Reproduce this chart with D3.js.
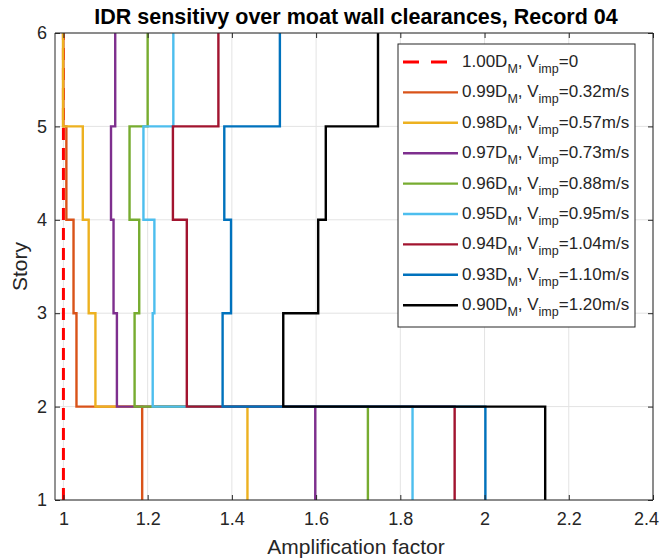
<!DOCTYPE html>
<html>
<head>
<meta charset="utf-8">
<script src="https://cdn.jsdelivr.net/npm/d3@7"></script>
<style>
  html, body { margin: 0; padding: 0; background: #ffffff; }
  text { font-family: "Liberation Sans", Arial, Helvetica, sans-serif; }
</style>
</head>
<body>
<svg id="chart" width="660" height="559"></svg>
<script>
// ---------- data ----------
const stories = [1, 2, 3, 4, 5, 6];
const xTicks = [1, 1.2, 1.4, 1.6, 1.8, 2, 2.2, 2.4];
const yTicks = [1, 2, 3, 4, 5, 6];
const clearances = ["1.00", "0.99", "0.98", "0.97", "0.96", "0.95", "0.94", "0.93", "0.90"];
const impactVel = ["0", "0.32m/s", "0.57m/s", "0.73m/s", "0.88m/s", "0.95m/s", "1.04m/s", "1.10m/s", "1.20m/s"];
const colors = ["#FF0000", "#D95319", "#EDB120", "#7E2F8E", "#77AC30", "#4DBEEE", "#A2142F", "#0072BD", "#000000"];
// amplification factor per story interval: [1-2, 2-3, 3-4, 4-5, 5-6]
const amp100 = [1.000, 1.000, 1.000, 1.000, 1.000];
const amp099 = [1.187, 1.031, 1.024, 1.007, 1.000];
const amp098 = [1.437, 1.076, 1.060, 1.046, 0.999];
const amp097 = [1.598, 1.127, 1.119, 1.113, 1.123];
const amp096 = [1.723, 1.169, 1.180, 1.157, 1.200];
const amp095 = [1.829, 1.212, 1.216, 1.190, 1.261];
const amp094 = [1.929, 1.293, 1.293, 1.260, 1.368];
const amp093 = [2.002, 1.378, 1.398, 1.382, 1.514];
const amp090 = [2.144, 1.522, 1.605, 1.623, 1.747];
const seriesValues = [amp100, amp099, amp098, amp097, amp096, amp095, amp094, amp093, amp090];

// ---------- layout ----------
const svg = d3.select("#chart");
const L = 55, R = 653, T = 33, B = 500;
const x = d3.scaleLinear().domain([0.98, 2.4]).range([L, R]);
const y = d3.scaleLinear().domain([1, 6]).range([B, T]);
const axisColor = "#262626";

// grid
svg.append("g").selectAll("line").data(xTicks).join("line")
  .attr("x1", d => x(d)).attr("x2", d => x(d)).attr("y1", T).attr("y2", B)
  .attr("stroke", "#e3e3e3").attr("stroke-width", 1);
svg.append("g").selectAll("line").data(yTicks).join("line")
  .attr("x1", L).attr("x2", R).attr("y1", d => y(d)).attr("y2", d => y(d))
  .attr("stroke", "#e3e3e3").attr("stroke-width", 1);

// series
const line = d3.line().x(d => x(d[0])).y(d => y(d[1]));
seriesValues.forEach((vals, i) => {
  const pts = [];
  vals.forEach((v, k) => { pts.push([v, stories[k]]); pts.push([v, stories[k + 1]]); });
  const p = svg.append("path").attr("d", line(pts))
    .attr("fill", "none").attr("stroke", colors[i])
    .attr("stroke-width", i === 0 ? 3 : 2.4)
    .attr("stroke-linejoin", "miter");
  if (i === 0) p.attr("stroke-dasharray", "12,8");
});

// axes
const xAxisB = d3.axisBottom(x).tickValues(xTicks).tickSize(-5).tickPadding(12).tickFormat(d3.format("~g"));
const xAxisT = d3.axisTop(x).tickValues(xTicks).tickSize(-5).tickFormat("");
const yAxisL = d3.axisLeft(y).tickValues(yTicks).tickSize(-5).tickPadding(8).tickFormat(d3.format("d"));
const yAxisR = d3.axisRight(y).tickValues(yTicks).tickSize(-5).tickFormat("");
function style(g) {
  g.select(".domain").attr("stroke", axisColor).attr("stroke-width", 1);
  g.selectAll(".tick line").attr("stroke", axisColor);
  g.selectAll(".tick text").attr("fill", axisColor).style("font-size", "18px")
    .style("font-family", '"Liberation Sans", Arial, sans-serif');
}
const gxB = svg.append("g").attr("transform", `translate(0,${B})`).call(xAxisB).call(style);
gxB.select(".domain").attr("d", `M${L},0H${R}`);
// keep the last tick label inside the picture (the reference is cropped at the right edge)
gxB.selectAll(".tick text").filter(d => d === 2.4).attr("dx", -7);
svg.append("g").attr("transform", `translate(0,${T})`).call(xAxisT).call(style).select(".domain").attr("d", `M${L},0H${R}`);
svg.append("g").attr("transform", `translate(${L},0)`).call(yAxisL).call(style).select(".domain").attr("d", `M0,${B}V${T}`);
svg.append("g").attr("transform", `translate(${R},0)`).call(yAxisR).call(style).select(".domain").attr("d", `M0,${B}V${T}`);

// title & labels
svg.append("text").attr("x", 356).attr("y", 24).attr("text-anchor", "middle")
  .style("font-size", "21.5px").style("font-weight", "bold").attr("fill", "#000")
  .text("IDR sensitivy over moat wall clearances, Record 04");
svg.append("text").attr("x", 356).attr("y", 554).attr("text-anchor", "middle")
  .style("font-size", "21px").attr("fill", axisColor).text("Amplification factor");
svg.append("text").attr("transform", `translate(27,${(T + B) / 2}) rotate(-90)`).attr("text-anchor", "middle")
  .style("font-size", "21px").attr("fill", axisColor).text("Story");

// legend
const lgX = 398, lgY = 44, lgW = 237, lgH = 283, rowH = 30.4, row0 = 62;
const lg = svg.append("g");
lg.append("rect").attr("x", lgX).attr("y", lgY).attr("width", lgW).attr("height", lgH)
  .attr("fill", "#fff").attr("stroke", axisColor).attr("stroke-width", 1);
clearances.forEach((c, i) => {
  const yy = row0 + i * rowH;
  const ln = lg.append("line").attr("x1", 403).attr("x2", 458).attr("y1", yy).attr("y2", yy)
    .attr("stroke", colors[i]).attr("stroke-width", i === 0 ? 3 : 2.4);
  if (i === 0) ln.attr("stroke-dasharray", "16,12");
  const t = lg.append("text").attr("x", 462).attr("y", yy + 5).attr("fill", axisColor).style("font-size", "17px");
  t.append("tspan").text(c + "D");
  t.append("tspan").attr("dy", 6).style("font-size", "12.5px").text("M");
  t.append("tspan").attr("dy", -6).text(", V");
  t.append("tspan").attr("dy", 6).style("font-size", "12.5px").text("imp");
  t.append("tspan").attr("dy", -6).text("=" + impactVel[i]);
});
</script>
</body>
</html>
